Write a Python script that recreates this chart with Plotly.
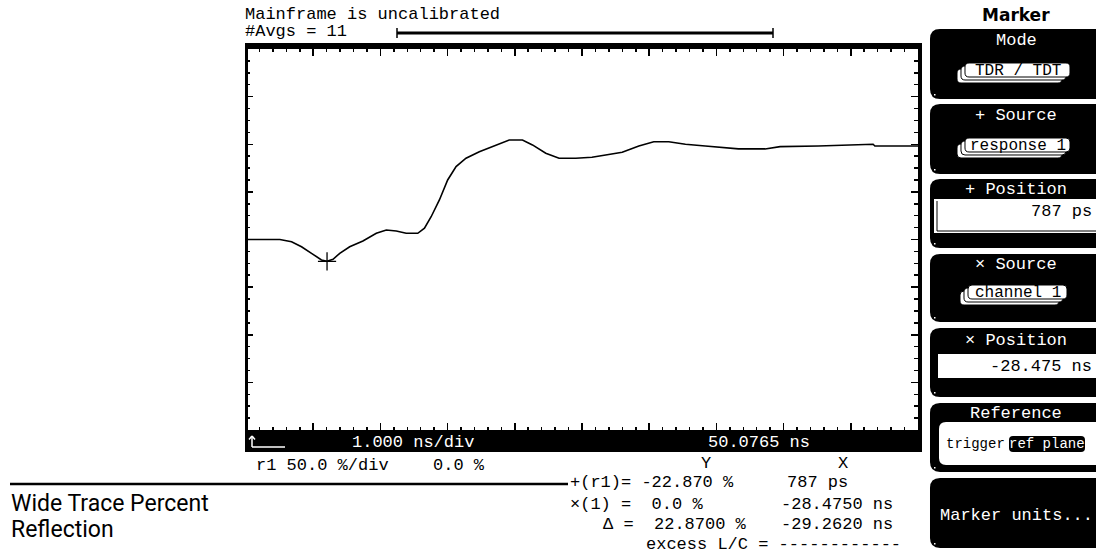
import plotly.graph_objects as go

# ---------------- data ----------------
time_ns = [0.0, 0.504, 0.678, 0.826, 0.975, 1.123, 1.206, 1.295, 1.395, 1.543, 1.740,
           1.939, 2.088, 2.236, 2.384, 2.556, 2.656, 2.755, 2.878, 3.001, 3.126, 3.274,
           3.472, 3.720, 3.917, 4.114, 4.263, 4.461, 4.659, 4.907, 5.148, 5.352, 5.598,
           5.846, 6.068, 6.291, 6.539, 6.835, 7.058, 7.329, 7.725, 7.948, 8.516, 9.332,
           9.358, 10.0]
reflection_pct = [0.0, 0.0, -2.3, -7.6, -14.5, -21.5, -22.87, -20.8, -14.5, -7.6, -1.6,
                  6.5, 10.0, 8.9, 6.5, 6.5, 11.8, 23.9, 41.5, 62.5, 76.5, 85.3,
                  92.2, 99.3, 104.5, 104.5, 99.3, 90.5, 85.3, 85.3, 86.3, 88.8, 91.6,
                  98.2, 102.7, 102.7, 100.0, 98.2, 96.8, 95.1, 95.1, 97.5, 98.2, 100.0,
                  98.2, 98.2]
marker_x = [1.206]
marker_y = [-22.87]

header_lines = ["Mainframe is uncalibrated", "#Avgs = 11"]
timebase_label = "1.000 ns/div"
position_label = "50.0765 ns"
scale_label = "r1 50.0 %/div"
offset_label = "0.0 %"
readout_left = ["+(r1)= -22.870 %", "×(1) =  0.0 %", "Δ =  22.8700 %"]
readout_right = ["787 ps", "-28.4750 ns", "-29.2620 ns"]
excess_label = "excess L/C = ------------"
caption_lines = ["Wide Trace Percent", "Reflection"]
menu_title = "Marker"
button_titles = ["Mode", "+ Source", "+ Position", "× Source", "× Position", "Reference", ""]
pill_labels = ["TDR / TDT", "response 1", "channel 1"]
plus_position = "787 ps"
x_position = "-28.475 ns"
reference_options = ["trigger", "ref plane"]
units_label = "Marker units..."

# ---------------- geometry helpers (pixel -> paper) ----------------
W, H = 1096, 556
PX0, PX1, PY0, PY1 = 246, 918, 49, 430
MONO = "Liberation Mono, DejaVu Sans Mono, monospace"


def X(px):
    return (px - PX0) / (PX1 - PX0)


def Y(py):
    return (PY1 - py) / (PY1 - PY0)


shapes = []
annotations = []


def rect(x0, y0, x1, y1, fill="black", line_color=None, lw=0):
    shapes.append(dict(type="rect", xref="paper", yref="paper",
                       x0=X(x0), x1=X(x1), y0=Y(y1), y1=Y(y0),
                       fillcolor=fill, line=dict(width=lw, color=line_color or fill),
                       layer="above"))


def line(x0, y0, x1, y1, color="black", lw=1):
    shapes.append(dict(type="line", xref="paper", yref="paper",
                       x0=X(x0), x1=X(x1), y0=Y(y0), y1=Y(y1),
                       line=dict(width=lw, color=color), layer="above"))


def rrect(x0, y0, x1, y1, r, fill="black", line_color=None, lw=0):
    p = lambda a, b: f"{X(a):.6f},{Y(b):.6f}"
    path = (f"M{p(x0 + r, y0)} L{p(x1 - r, y0)} Q{p(x1, y0)} {p(x1, y0 + r)} "
            f"L{p(x1, y1 - r)} Q{p(x1, y1)} {p(x1 - r, y1)} L{p(x0 + r, y1)} "
            f"Q{p(x0, y1)} {p(x0, y1 - r)} L{p(x0, y0 + r)} Q{p(x0, y0)} {p(x0 + r, y0)} Z")
    shapes.append(dict(type="path", xref="paper", yref="paper", path=path,
                       fillcolor=fill, line=dict(width=lw, color=line_color or fill),
                       layer="above"))


def txt(px, py, s, size=17, color="black", anchor="left", family=MONO, bold=False):
    if bold:
        s = f"<b>{s}</b>"
    annotations.append(dict(x=X(px), y=Y(py), xref="paper", yref="paper", text=s,
                            showarrow=False, xanchor=anchor, yanchor="middle",
                            font=dict(family=family, size=size, color=color),
                            borderpad=0))


# ---------------- figure ----------------
fig = go.Figure()
fig.add_trace(go.Scatter(x=time_ns, y=reflection_pct, mode="lines",
                         line=dict(color="black", width=1.6), hoverinfo="skip"))
fig.add_trace(go.Scatter(x=marker_x, y=marker_y, mode="markers",
                         marker=dict(symbol="cross-thin", size=13,
                                     line=dict(color="black", width=1.3)),
                         hoverinfo="skip"))

# graticule frame
rect(245, 43, 922, 49)
rect(245, 43, 248, 452)
rect(918, 43, 922, 452)
rect(245, 430, 922, 452)

# header
txt(244, 14, header_lines[0])
txt(244, 32, header_lines[1])
line(397, 33, 773, 33, lw=3)
line(397, 28, 397, 38, lw=1.5)
line(773, 28, 773, 38, lw=1.5)

# bottom bar content
line(252, 447, 285, 447, color="white", lw=1.5)
line(252, 436, 252, 447, color="white", lw=1.5)
line(249, 439.5, 252, 436, color="white", lw=1.5)
line(255, 439.5, 252, 436, color="white", lw=1.5)
txt(351, 442, timebase_label, color="white")
txt(707, 442, position_label, color="white")

txt(255, 465, scale_label)
txt(432, 465, offset_label)

# readouts
txt(706, 463, "Y", anchor="center")
txt(843, 463, "X", anchor="center")
ys = [483, 504, 524]
xl = [569, 569, 602]
xr = [786, 780, 780]
for i in range(3):
    txt(xl[i], ys[i], readout_left[i])
    txt(xr[i], ys[i], readout_right[i])
txt(645, 544, excess_label)

# caption
line(10, 484, 568, 484, lw=2.5)
CAP = "Liberation Sans Narrow, Arial Narrow, Roboto, sans-serif"
txt(10, 503, caption_lines[0], size=23, family=CAP)
txt(10, 529, caption_lines[1], size=23, family=CAP)

# right menu
txt(1016, 15, menu_title, size=17, anchor="center", family="DejaVu Sans, sans-serif", bold=True)
tops = [29, 104, 179, 254, 328, 403, 478]
bots = [99, 174, 248, 322, 397, 472, 548]
title_y = [40, 115, 189, 264, 340, 413]
for i in range(7):
    rrect(930, tops[i], 1110, bots[i], 10)
    rect(934, bots[i] - 5, 935.5, bots[i] - 3.5, fill="white")
for i in range(6):
    txt(1016, title_y[i], button_titles[i], color="white", anchor="center")

pills = [(965, 1070, 63, 77), (965, 1070, 138, 152), (968, 1067, 285, 299)]
for lab, (a, b, c, d) in zip(pill_labels, pills):
    for dx, dy in [(-8, 6), (-4, 3), (0, 0)]:
        rrect(a + dx, c + dy, b + dx, d + dy, 4, fill="white", line_color="black", lw=1)
    txt((a + b) / 2, (c + d) / 2 + 0.5, lab, size=16, anchor="center")

# + Position field
rect(934, 199, 1096, 233, fill="white")
line(937, 201, 937, 231, lw=1)
line(937, 231, 1096, 231, lw=1)
txt(1093, 211, plus_position, anchor="right")

# x Position field
rect(938, 354, 1096, 378, fill="white")
txt(1093, 366, x_position, anchor="right")

# Reference
rrect(939, 422, 1110, 465, 7, fill="white")
txt(945, 444, reference_options[0], size=14)
rrect(1009, 436, 1085, 452, 4, fill="black")
txt(1047, 444, reference_options[1], size=14, color="white", anchor="center")

# Marker units
txt(939, 515, units_label, color="white")

fig.update_layout(
    width=W, height=H,
    margin=dict(l=PX0, r=W - PX1, t=PY0, b=H - PY1, pad=0),
    paper_bgcolor="white", plot_bgcolor="white",
    showlegend=False,
    xaxis=dict(range=[0, 10], showgrid=False, zeroline=False, showticklabels=False,
               ticks="inside", dtick=1, tick0=0, ticklen=7, tickwidth=1.5, tickcolor="black",
               mirror="allticks", showline=False,
               minor=dict(dtick=0.2, ticks="inside", ticklen=3, tickwidth=1.5, tickcolor="black"),
               fixedrange=True),
    yaxis=dict(range=[-200, 200], showgrid=False, zeroline=False, showticklabels=False,
               ticks="inside", dtick=50, tick0=0, ticklen=7, tickwidth=1.5, tickcolor="black",
               mirror="allticks", showline=False,
               minor=dict(dtick=12.5, ticks="inside", ticklen=4, tickwidth=1.5, tickcolor="black"),
               fixedrange=True),
    shapes=shapes, annotations=annotations,
)

fig.write_html("out.html", config={"staticPlot": True},
               post_script="document.body.style.margin='0px';document.body.style.overflow='hidden';")
